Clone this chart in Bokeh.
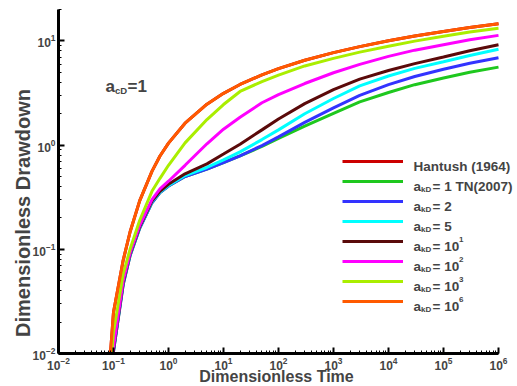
from math import pi
from bokeh.plotting import figure
from bokeh.models import Label, Legend, LegendItem, LogTicker
from bokeh.embed import file_html
from bokeh.resources import INLINE

# ---- data ----
t = [0.1, 0.15, 0.2, 0.3, 0.5, 0.7, 1, 2, 5, 10, 20, 50, 100,
     300, 1e3, 3e3, 1e4, 3e4, 1e5, 3e5, 1e6]
s_hantush = [0.0249, 0.0784, 0.1465, 0.293, 0.560, 0.786, 1.044, 1.623, 2.468, 3.137, 3.817,
             4.726, 5.414, 6.513, 7.717, 8.816, 10.02, 11.12, 12.32, 13.42, 14.63]
s_a1 = [0.0105, 0.046, 0.087, 0.16, 0.28, 0.35, 0.405, 0.5, 0.59, 0.68, 0.79,
        0.97, 1.16, 1.52, 2.02, 2.6, 3.2, 3.8, 4.4, 5.0, 5.6]
s_a2 = [0.0105, 0.046, 0.087, 0.16, 0.28, 0.35, 0.405, 0.5, 0.59, 0.68, 0.79,
        0.99, 1.2, 1.65, 2.28, 3.0, 3.8, 4.55, 5.35, 6.1, 6.9]
s_a5 = [0.011, 0.048, 0.089, 0.163, 0.285, 0.355, 0.41, 0.51, 0.61, 0.72, 0.86,
        1.13, 1.4, 2.0, 2.8, 3.7, 4.6, 5.45, 6.3, 7.25, 8.3]
s_a1e1 = [0.011, 0.048, 0.09, 0.165, 0.29, 0.36, 0.42, 0.53, 0.66, 0.82, 1.02,
          1.4, 1.78, 2.5, 3.4, 4.3, 5.2, 6.05, 7.0, 8.05, 9.2]
s_a1e2 = [0.0115, 0.05, 0.092, 0.17, 0.30, 0.38, 0.45, 0.64, 1.03, 1.42, 1.85,
          2.55, 3.05, 3.9, 4.95, 5.95, 7.1, 8.15, 9.2, 10.25, 11.3]
s_a1e3 = [0.016, 0.058, 0.10, 0.19, 0.36, 0.48, 0.64, 1.05, 1.76, 2.45, 3.27,
          4.07, 4.7, 5.75, 6.8, 7.8, 8.9, 9.95, 11.1, 12.15, 13.2]
s_a1e6 = s_hantush
# time at which each curve leaves the bottom of the plot (s = 0.01)
t_start = [0.088, 0.099, 0.099, 0.098, 0.098, 0.097, 0.093, 0.088]
s_floor = 0.01

series = [s_hantush, s_a1, s_a2, s_a5, s_a1e1, s_a1e2, s_a1e3, s_a1e6]
colors = ["#CC0000", "#1EC81E", "#3333FF", "#00FFFF", "#5A0A0A", "#FF00FF", "#AAEE00", "#FF5A00"]
legend_main = ["Hantush (1964)", "= 1 TN(2007)", "= 2", "= 5", "= 10", "= 10", "= 10", "= 10"]
legend_sub = [None, "kD", "kD", "kD", "kD", "kD", "kD", "kD"]
legend_sup = [None, None, None, None, "1", "2", "3", "6"]
x_ticks_range = (1e-2, 1e6)
y_ticks_range = (1e-2, 20)

FONT = "Liberation Sans"
W, H = 517, 386

# frame covers the whole canvas; axes are drawn at fixed data locations
# x: 10^-2 at px 58, 55 px per decade ; y: 10^-2 at py 353, 104.2 px per decade
x_lo = 10 ** (-2 - 58 / 55)
x_hi = 10 ** (-2 + (W - 58) / 55)
y_lo = 10 ** (-2 - (H - 353) / 104.2)
y_hi = 10 ** (-2 + 353 / 104.2)

p = figure(width=W, height=H, x_axis_type="log", y_axis_type="log",
           x_range=(x_lo, x_hi), y_range=(y_lo, y_hi),
           output_backend="svg", toolbar_location=None,
           min_border_left=0, min_border_right=0, min_border_top=0, min_border_bottom=0)
p.outline_line_color = None
p.xgrid.visible = False
p.ygrid.visible = False

xa, ya = p.xaxis[0], p.yaxis[0]
xa.fixed_location = y_ticks_range[0]
ya.fixed_location = x_ticks_range[0]
xa.bounds = x_ticks_range
ya.bounds = y_ticks_range
for ax in (xa, ya):
    ax.ticker = LogTicker(num_minor_ticks=10)
    ax.axis_line_width = 3
    ax.axis_line_color = "black"
    ax.major_tick_in = 6
    ax.major_tick_out = 0
    ax.minor_tick_in = 3
    ax.minor_tick_out = 0
    ax.major_tick_line_width = 2
    ax.minor_tick_line_width = 1
    ax.major_label_text_font = FONT
    ax.major_label_text_font_style = "bold"
    ax.major_label_text_font_size = "12px"
    ax.major_label_standoff = 3
    ax.axis_label = None

renderers = []
for s, c, t0 in zip(series, colors, t_start):
    r = p.line([t0] + t, [s_floor] + s, line_color=c, line_width=3)
    renderers.append(r)

items = [LegendItem(label=" ", renderers=[r]) for r in renderers]
legend = Legend(items=items, location=(342, H - 311), padding=0, margin=0, spacing=0,
                glyph_width=61, glyph_height=20, label_height=20, label_standoff=0,
                label_text_font_size="1px", border_line_alpha=0, background_fill_alpha=0)
p.add_layout(legend, "center")


def lab(px, py, text, size, **kw):
    p.add_layout(Label(x=px, y=H - py, x_units="screen", y_units="screen", text=text,
                       text_font=FONT, text_font_style="bold", text_font_size=size,
                       text_baseline=kw.pop("baseline", "alphabetic"), **kw))


for i in range(len(legend_main)):
    yc = 161 + 20 * i
    if legend_sub[i] is None:
        lab(413, yc + 5, legend_main[i], "13.5px")
        continue
    lab(413, yc + 5, "a", "13.5px")
    lab(420.5, yc + 8, legend_sub[i], "8px")
    lab(432, yc + 5, legend_main[i], "13.5px")
    if legend_sup[i] is not None:
        lab(458.5, yc - 2.5, legend_sup[i], "8px")

# a_cD = 1 annotation
lab(105, 86, "a", "17px")
lab(114.5, 90, "cD", "9.5px")
lab(127, 86, "=1", "17px")

# axis titles
lab(276, 376, "Dimensionless Time", "16px", text_align="center")
lab(22, 212.5, "Dimensionless Drawdown", "20px", text_align="center",
    baseline="middle", angle=pi / 2)

open("out.html", "w").write(file_html(p, INLINE))
